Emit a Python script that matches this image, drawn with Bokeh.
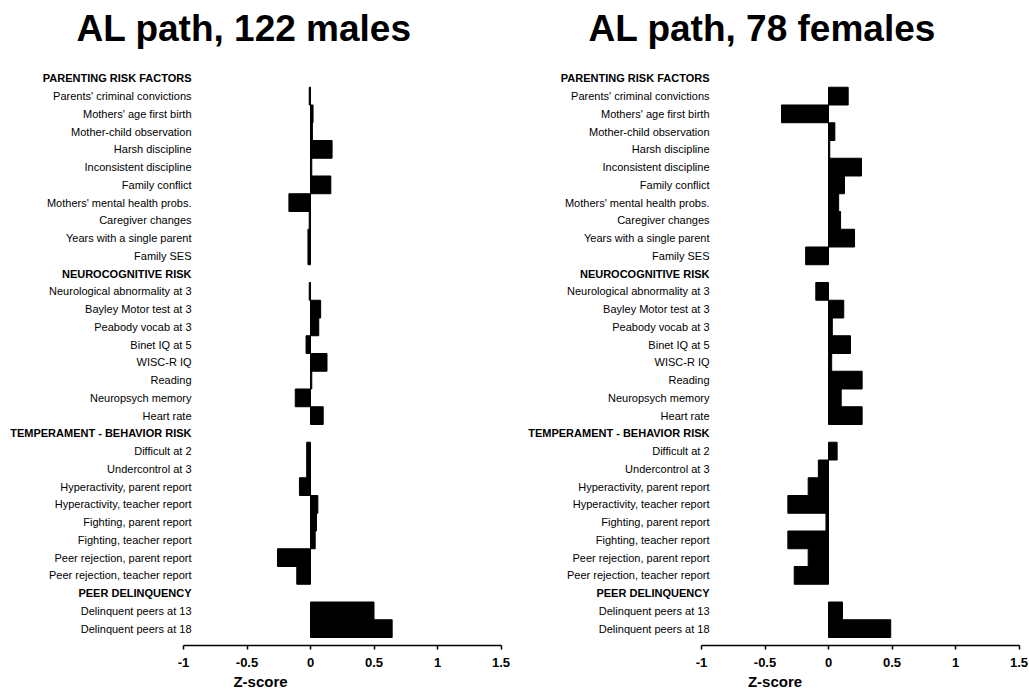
from bokeh.plotting import figure
from bokeh.models import ColumnDataSource, Range1d, FixedTicker, Title
from bokeh.core.properties import value
from bokeh.layouts import row
from bokeh.embed import file_html
from bokeh.resources import INLINE

# ---- data ----
section_headers = ["PARENTING RISK FACTORS", "NEUROCOGNITIVE RISK",
                   "TEMPERAMENT - BEHAVIOR RISK", "PEER DELINQUENCY"]
parenting_items = ["Parents' criminal convictions", "Mothers' age first birth",
                   "Mother-child observation", "Harsh discipline",
                   "Inconsistent discipline", "Family conflict",
                   "Mothers' mental health probs.", "Caregiver changes",
                   "Years with a single parent", "Family SES"]
neuro_items = ["Neurological abnormality at 3", "Bayley Motor test at 3",
               "Peabody vocab at 3", "Binet IQ at 5", "WISC-R IQ", "Reading",
               "Neuropsych memory", "Heart rate"]
temperament_items = ["Difficult at 2", "Undercontrol at 3",
                     "Hyperactivity, parent report", "Hyperactivity, teacher report",
                     "Fighting, parent report", "Fighting, teacher report",
                     "Peer rejection, parent report", "Peer rejection, teacher report"]
peer_items = ["Delinquent peers at 13", "Delinquent peers at 18"]

male_parenting = [-0.01, 0.02, 0.015, 0.17, 0.01, 0.16, -0.17, -0.01, -0.02, -0.02]
male_neuro = [-0.01, 0.08, 0.065, -0.035, 0.13, 0.01, -0.12, 0.10]
male_temperament = [-0.03, -0.03, -0.087, 0.058, 0.047, 0.037, -0.26, -0.108]
male_peer = [0.50, 0.643]

female_parenting = [0.155, -0.37, 0.05, 0.01, 0.26, 0.126, 0.08, 0.095, 0.205, -0.18]
female_neuro = [-0.10, 0.12, 0.03, 0.173, 0.025, 0.265, 0.10, 0.265]
female_temperament = [0.068, -0.08, -0.16, -0.32, -0.02, -0.32, -0.16, -0.27]
female_peer = [0.11, 0.49]

titles = ["AL path, 122 males", "AL path, 78 females"]
x_ticks = [-1, -0.5, 0, 0.5, 1, 1.5]
x_label = "Z-score"

# ---- build rows ----
sections = [(section_headers[0], parenting_items, male_parenting, female_parenting),
            (section_headers[1], neuro_items, male_neuro, female_neuro),
            (section_headers[2], temperament_items, male_temperament, female_temperament),
            (section_headers[3], peer_items, male_peer, female_peer)]

head_y, head_txt = [], []
item_y, item_txt, male_vals, female_vals = [], [], [], []
pos = 0
for h, items, mv, fv in sections:
    head_y.append(pos); head_txt.append(h); pos += 1
    for it, m, f in zip(items, mv, fv):
        item_y.append(pos); item_txt.append(it)
        male_vals.append(m); female_vals.append(f)
        pos += 1
n_rows = pos

FONT = "Liberation Sans"
PX_PER_UNIT = 127.0      # horizontal scale (layout)
FIG_H = 696
TOP = 50                 # frame top (px)
BOTTOM_BORDER = 51
ROW_PX = 17.84           # vertical spacing of rows (layout)
FIRST_ROW_PX = 75


def make_panel(title, vals, width, axis_start_px, title_offset):
    x0 = x_ticks[0] - axis_start_px / PX_PER_UNIT
    x1 = x0 + width / PX_PER_UNIT
    frame_h = FIG_H - TOP - BOTTOM_BORDER
    y_top = -(FIRST_ROW_PX - TOP) / ROW_PX
    y_bot = y_top + frame_h / ROW_PX
    p = figure(width=width, height=FIG_H, x_range=Range1d(x0, x1),
               y_range=Range1d(y_bot, y_top),
               y_axis_location=None, toolbar_location=None,
               output_backend="svg", min_border_left=0,
               min_border_right=0, min_border_top=TOP,
               min_border_bottom=BOTTOM_BORDER)
    p.title = Title(text=title, text_font=FONT, text_font_size="37px",
                    text_font_style="bold", align="left", offset=title_offset,
                    text_color="black")
    p.outline_line_color = None
    p.grid.visible = False
    p.background_fill_color = "white"
    p.border_fill_color = "white"

    src = ColumnDataSource(dict(y=item_y, v=vals, label=item_txt))
    p.hbar(y="y", left=0, right="v", height=1.0, source=src,
           fill_color="black", line_color="black", line_width=1)

    hsrc = ColumnDataSource(dict(y=head_y, label=head_txt))
    p.text(x=x_ticks[0], y="y", text="label", source=src,
           x_offset=8, text_align="right", text_baseline="middle",
           text_font=value(FONT), text_font_size="11px", text_color="black")
    p.text(x=x_ticks[0], y="y", text="label", source=hsrc,
           x_offset=8, text_align="right", text_baseline="middle",
           text_font=value(FONT), text_font_size="11px",
           text_font_style="bold", text_color="black")

    ax = p.xaxis[0]
    ax.bounds = (x_ticks[0], x_ticks[-1])
    ax.ticker = FixedTicker(ticks=x_ticks)
    ax.major_label_overrides = {t: (str(t) if t != int(t) else str(int(t))) for t in x_ticks}
    ax.axis_line_color = "black"
    ax.axis_line_width = 1.5
    ax.major_tick_line_color = "black"
    ax.major_tick_line_width = 1.5
    ax.major_tick_in = 0
    ax.major_tick_out = 4
    ax.minor_tick_line_color = None
    ax.major_label_text_font = FONT
    ax.major_label_text_font_size = "13px"
    ax.major_label_text_font_style = "bold"
    ax.major_label_text_color = "black"
    ax.major_label_standoff = 8
    ax.axis_label = x_label
    ax.axis_label_text_font = FONT
    ax.axis_label_text_font_size = "15px"
    ax.axis_label_text_font_style = "bold"
    ax.axis_label_text_color = "black"
    ax.axis_label_standoff = 3
    return p


p1 = make_panel(titles[0], male_vals, 520, 183, 76)
p2 = make_panel(titles[1], female_vals, 509, 181, 68)
layout = row(p1, p2)

open("out.html", "w").write(file_html(layout, INLINE))
